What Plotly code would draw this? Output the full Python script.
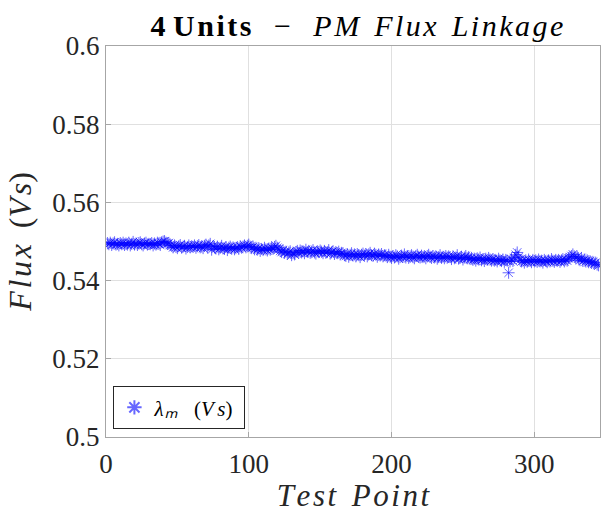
import plotly.graph_objects as go

flux_vs = [
    0.5496, 0.5493, 0.5497, 0.5491, 0.5495, 0.5498, 0.5492, 0.5494, 0.5490, 0.5496, 0.5493, 0.5497, 0.5491, 0.5495, 0.5492,
    0.5497, 0.5490, 0.5494, 0.5499, 0.5492, 0.5495, 0.5491, 0.5496, 0.5498, 0.5493, 0.5490, 0.5495, 0.5497, 0.5492, 0.5494,
    0.5493, 0.5496, 0.5490, 0.5495, 0.5492, 0.5497, 0.5494, 0.5491, 0.5498, 0.5500, 0.5501, 0.5497, 0.5494, 0.5496, 0.5491,
    0.5489, 0.5485, 0.5490, 0.5486, 0.5483, 0.5488, 0.5491, 0.5484, 0.5487, 0.5489, 0.5482, 0.5486, 0.5490, 0.5485, 0.5488,
    0.5486, 0.5490, 0.5484, 0.5488, 0.5491, 0.5485, 0.5487, 0.5483, 0.5489, 0.5492, 0.5486, 0.5490, 0.5494, 0.5479, 0.5488,
    0.5486, 0.5482, 0.5487, 0.5480, 0.5484, 0.5489, 0.5483, 0.5481, 0.5486, 0.5478, 0.5484, 0.5487, 0.5482, 0.5485, 0.5480,
    0.5483, 0.5486, 0.5481, 0.5488, 0.5484, 0.5487, 0.5490, 0.5485, 0.5489, 0.5492, 0.5487, 0.5483, 0.5486, 0.5480, 0.5484,
    0.5479, 0.5483, 0.5476, 0.5481, 0.5478, 0.5484, 0.5480, 0.5477, 0.5482, 0.5479, 0.5485, 0.5481, 0.5486, 0.5489, 0.5484,
    0.5480, 0.5476, 0.5473, 0.5478, 0.5471, 0.5474, 0.5468, 0.5472, 0.5475, 0.5465, 0.5470, 0.5467, 0.5473, 0.5476, 0.5471,
    0.5477, 0.5472, 0.5475, 0.5470, 0.5479, 0.5473, 0.5476, 0.5471, 0.5474, 0.5478, 0.5472, 0.5469, 0.5475, 0.5473, 0.5477,
    0.5474, 0.5470, 0.5476, 0.5471, 0.5473, 0.5478, 0.5469, 0.5472, 0.5475, 0.5468, 0.5473, 0.5470, 0.5474, 0.5467, 0.5471,
    0.5469, 0.5465, 0.5463, 0.5468, 0.5461, 0.5466, 0.5470, 0.5464, 0.5467, 0.5462, 0.5468, 0.5465, 0.5460, 0.5466, 0.5469,
    0.5464, 0.5468, 0.5462, 0.5467, 0.5471, 0.5465, 0.5463, 0.5469, 0.5466, 0.5461, 0.5467, 0.5464, 0.5468, 0.5462, 0.5465,
    0.5464, 0.5460, 0.5466, 0.5461, 0.5458, 0.5463, 0.5459, 0.5465, 0.5462, 0.5456, 0.5460, 0.5464, 0.5461, 0.5467, 0.5459,
    0.5463, 0.5458, 0.5462, 0.5465, 0.5460, 0.5457, 0.5463, 0.5466, 0.5461, 0.5459, 0.5464, 0.5460, 0.5462, 0.5457, 0.5463,
    0.5466, 0.5461, 0.5458, 0.5463, 0.5459, 0.5462, 0.5456, 0.5460, 0.5465, 0.5458, 0.5461, 0.5457, 0.5463, 0.5459, 0.5462,
    0.5460, 0.5455, 0.5462, 0.5457, 0.5459, 0.5465, 0.5456, 0.5458, 0.5461, 0.5454, 0.5459, 0.5463, 0.5457, 0.5460, 0.5455,
    0.5458, 0.5453, 0.5456, 0.5451, 0.5457, 0.5454, 0.5459, 0.5452, 0.5455, 0.5450, 0.5456, 0.5453, 0.5458, 0.5454, 0.5451,
    0.5455, 0.5451, 0.5453, 0.5449, 0.5456, 0.5452, 0.5450, 0.5454, 0.5448, 0.5453, 0.5451, 0.5420, 0.5449, 0.5455, 0.5450,
    0.5458, 0.5466, 0.5472, 0.5460, 0.5453, 0.5449, 0.5451, 0.5446, 0.5452, 0.5448, 0.5454, 0.5450, 0.5447, 0.5453, 0.5449,
    0.5452, 0.5448, 0.5454, 0.5449, 0.5451, 0.5446, 0.5453, 0.5450, 0.5447, 0.5452, 0.5449, 0.5455, 0.5451, 0.5448, 0.5453,
    0.5450, 0.5453, 0.5448, 0.5452, 0.5455, 0.5449, 0.5454, 0.5451, 0.5457, 0.5460, 0.5463, 0.5467, 0.5462, 0.5458, 0.5461,
    0.5456, 0.5452, 0.5458, 0.5450, 0.5454, 0.5449, 0.5452, 0.5447, 0.5450, 0.5445, 0.5448, 0.5443, 0.5446, 0.5441, 0.5439,
]
test_point = list(range(1, len(flux_vs) + 1))

x_ticks = [0, 100, 200, 300]
y_ticks = [0.5, 0.52, 0.54, 0.56, 0.58, 0.6]
y_tick_labels = ["0.5", "0.52", "0.54", "0.56", "0.58", "0.6"]

FONT = "Liberation Serif, Times New Roman, serif"
TXT = "#262626"
H = "\u200a"   # hair space: mimics LaTeX math-italic letter spacing
N = "\u00a0"   # non-breaking space (not collapsed)

fig = go.Figure()
fig.add_trace(go.Scatter(
    x=test_point, y=flux_vs, mode="markers",
    name=f"<i>λ{H}ₘ</i>{N}{N}{N}(<i>V{H}{H}s</i>){N}",
    marker=dict(symbol="asterisk-open", size=10, color="rgba(0,0,255,0.6)",
                line=dict(color="rgba(0,0,255,0.6)", width=1)),
))

axis_common = dict(
    showline=True, mirror=True, linecolor="#a6a6a6", linewidth=1,
    showgrid=True, gridcolor="#e0e0e0", gridwidth=1,
    ticks="inside", ticklen=5, tickcolor="#a6a6a6",
    zeroline=False, automargin=False,
    tickfont=dict(family=FONT, size=27, color=TXT),
)

title_text = (f"<b>4{N}U{H}n{H}i{H}t{H}s</b>{N}{N}{N}−{N}{N}{N}"
              f"<i>P{H}M{N}{N}F{H}l{H}u{H}x{N}{N}L{H}i{H}n{H}k{H}a{H}g{H}e</i>")

fig.update_layout(
    width=605, height=513,
    paper_bgcolor="white", plot_bgcolor="white",
    margin=dict(l=106, r=5, t=46, b=76),
    title=dict(
        text=title_text,
        x=0.59, xanchor="center", y=0.951, yanchor="middle",
        font=dict(family=FONT, size=30, color="black"),
    ),
    xaxis=dict(
        range=[0, 346], tickvals=x_ticks, ticklabelstandoff=3,
        title=dict(text=f"<i>T{H}e{H}s{H}t{N}{N}P{H}o{H}i{H}n{H}t</i>",
                   font=dict(family=FONT, size=31, color=TXT), standoff=4),
        **axis_common,
    ),
    yaxis=dict(
        range=[0.5, 0.6], tickvals=y_ticks, ticktext=y_tick_labels,
        title=dict(text=f"<i>F{H}l{H}u{H}x</i>{N}{N}(<i>V{H}s</i>)",
                   font=dict(family=FONT, size=32, color=TXT), standoff=11),
        **axis_common,
    ),
    showlegend=True,
    legend=dict(
        x=0.015, y=0.02, xanchor="left", yanchor="bottom",
        bgcolor="white", bordercolor="#262626", borderwidth=1,
        font=dict(family=FONT, size=21, color="black"),
        itemsizing="constant",
    ),
)

fig.write_html("out.html", config={"displayModeBar": False},
               post_script="document.body.style.margin='0px';")
